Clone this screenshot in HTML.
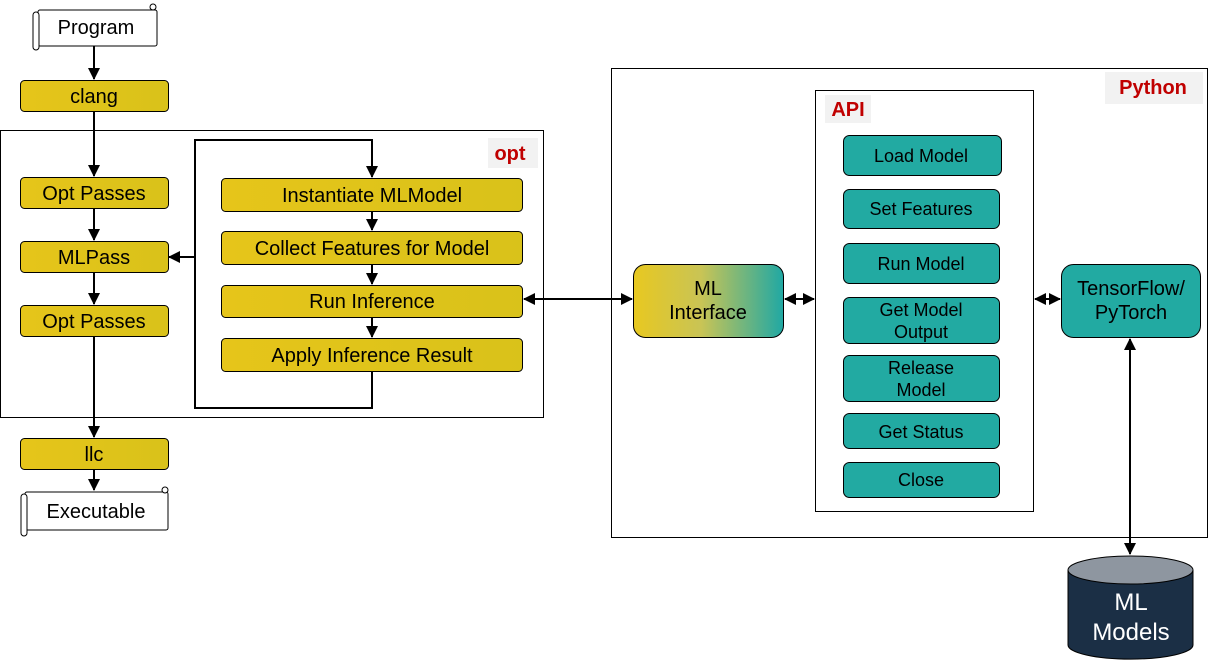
<!DOCTYPE html>
<html><head><meta charset="utf-8"><style>
body{margin:0;background:#fff;}
text{font-family:"Liberation Sans",sans-serif;fill:#000;}
</style></head><body>
<svg width="1208" height="662" viewBox="0 0 1208 662" xmlns="http://www.w3.org/2000/svg">
<defs>
<marker id="a" markerWidth="8" markerHeight="8" refX="7" refY="4" orient="auto" markerUnits="userSpaceOnUse"><path d="M0,0 L8,4 L0,8z" fill="#000"/></marker>
<marker id="b" markerWidth="12" markerHeight="12" refX="11" refY="6" orient="auto" markerUnits="userSpaceOnUse"><path d="M0,0 L12,6 L0,12z" fill="#000"/></marker>
<marker id="s" markerWidth="12" markerHeight="12" refX="1" refY="6" orient="auto" markerUnits="userSpaceOnUse"><path d="M12,0 L0,6 L12,12z" fill="#000"/></marker>
<linearGradient id="y" x1="0" x2="1"><stop offset="0" stop-color="#e6c51a"/><stop offset="1" stop-color="#d9c21a"/></linearGradient>
<linearGradient id="g" x1="0" x2="1"><stop offset="0" stop-color="#e8c820"/><stop offset="0.45" stop-color="#c9c455"/><stop offset="1" stop-color="#20a8a4"/></linearGradient>
</defs>
<!-- frames -->
<rect x="0.5" y="130.5" width="543" height="287" fill="none" stroke="#000"/>
<rect x="611.5" y="68.5" width="596" height="469" fill="none" stroke="#000"/>
<rect x="815.5" y="90.5" width="218" height="421" fill="none" stroke="#000"/>
<rect x="1105" y="72" width="98" height="32" fill="#f2f2f2"/>
<text x="1153" y="94" font-size="20" font-weight="bold" fill="#c00000" text-anchor="middle" style="fill:#c00000">Python</text>
<rect x="488" y="138" width="50" height="30" fill="#f2f2f2"/>
<text x="510" y="160" font-size="20" font-weight="bold" text-anchor="middle" style="fill:#c00000">opt</text>
<rect x="825" y="95" width="46" height="28" fill="#f2f2f2"/>
<text x="848" y="116" font-size="20" font-weight="bold" text-anchor="middle" style="fill:#c00000">API</text>
<!-- scrolls -->
<path d="M38,12 H152 M152,12 a3,3 0 0 1 5,0 V44 H40" fill="none" stroke="#000"/>
<rect x="38" y="10" width="119" height="36" fill="#fff" stroke="#000" rx="2"/>
<rect x="33" y="12" width="6" height="38" rx="3" fill="#fff" stroke="#000"/>
<circle cx="153" cy="7" r="3" fill="#fff" stroke="#000"/>
<text x="96" y="34" font-size="20" text-anchor="middle">Program</text>
<rect x="25" y="492" width="143" height="38" fill="#fff" stroke="#000" rx="2"/>
<rect x="21" y="494" width="6" height="42" rx="3" fill="#fff" stroke="#000"/>
<circle cx="165" cy="490" r="3" fill="#fff" stroke="#000"/>
<text x="96" y="518" font-size="20" text-anchor="middle">Executable</text>
<!-- left column -->
<g stroke="#000" fill="url(#y)">
<rect x="20.5" y="80.5" width="148" height="31" rx="4"/>
<rect x="20.5" y="177.5" width="148" height="31" rx="4"/>
<rect x="20.5" y="241.5" width="148" height="31" rx="4"/>
<rect x="20.5" y="305.5" width="148" height="31" rx="4"/>
<rect x="20.5" y="438.5" width="148" height="31" rx="4"/>
<rect x="221.5" y="178.5" width="301" height="33" rx="4"/>
<rect x="221.5" y="231.5" width="301" height="33" rx="4"/>
<rect x="221.5" y="285.5" width="301" height="32" rx="4"/>
<rect x="221.5" y="338.5" width="301" height="33" rx="4"/>
</g>
<g font-size="20" text-anchor="middle">
<text x="94" y="103">clang</text>
<text x="94" y="200">Opt Passes</text>
<text x="94" y="264">MLPass</text>
<text x="94" y="328">Opt Passes</text>
<text x="94" y="461">llc</text>
<text x="372" y="202">Instantiate MLModel</text>
<text x="372" y="255">Collect Features for Model</text>
<text x="372" y="308">Run Inference</text>
<text x="372" y="362">Apply Inference Result</text>
</g>
<g stroke="#000" stroke-width="2" fill="none">
<line x1="94" y1="46" x2="94" y2="79" marker-end="url(#b)"/>
<line x1="94" y1="111" x2="94" y2="176" marker-end="url(#b)"/>
<line x1="94" y1="208" x2="94" y2="240" marker-end="url(#b)"/>
<line x1="94" y1="272" x2="94" y2="304" marker-end="url(#b)"/>
<line x1="94" y1="336" x2="94" y2="437" marker-end="url(#b)"/>
<line x1="94" y1="469" x2="94" y2="490" marker-end="url(#b)"/>
<line x1="372" y1="211" x2="372" y2="230" marker-end="url(#b)"/>
<line x1="372" y1="264" x2="372" y2="284" marker-end="url(#b)"/>
<line x1="372" y1="317" x2="372" y2="337" marker-end="url(#b)"/>
<polyline points="372,371 372,408 195,408 195,140 372,140 372,177" marker-end="url(#b)"/>
<line x1="195" y1="257" x2="169" y2="257" marker-end="url(#b)"/>
<line x1="524" y1="299" x2="632" y2="299" marker-start="url(#s)" marker-end="url(#b)"/>
<line x1="785" y1="299" x2="814" y2="299" marker-start="url(#s)" marker-end="url(#b)"/>
<line x1="1035" y1="299" x2="1060" y2="299" marker-start="url(#s)" marker-end="url(#b)"/>
<line x1="1130" y1="339" x2="1130" y2="554" marker-start="url(#s)" marker-end="url(#b)"/>
</g>
<!-- right side -->
<rect x="633.5" y="264.5" width="150" height="73" rx="12" fill="url(#g)" stroke="#000"/>
<text x="708" y="295" font-size="20" text-anchor="middle">ML</text>
<text x="708" y="319" font-size="20" text-anchor="middle">Interface</text>
<g stroke="#000" fill="#22aaa2">
<rect x="843.5" y="135.5" width="158" height="40" rx="6"/>
<rect x="843.5" y="189.5" width="156" height="39" rx="6"/>
<rect x="843.5" y="243.5" width="156" height="40" rx="6"/>
<rect x="843.5" y="297.5" width="156" height="46" rx="6"/>
<rect x="843.5" y="355.5" width="156" height="46" rx="6"/>
<rect x="843.5" y="413.5" width="156" height="35" rx="6"/>
<rect x="843.5" y="462.5" width="156" height="35" rx="6"/>
<rect x="1061.5" y="264.5" width="139" height="73" rx="12"/>
</g>
<g font-size="18" text-anchor="middle">
<text x="921" y="162">Load Model</text>
<text x="921" y="215">Set Features</text>
<text x="921" y="270">Run Model</text>
<text x="921" y="316">Get Model</text>
<text x="921" y="338">Output</text>
<text x="921" y="374">Release</text>
<text x="921" y="396">Model</text>
<text x="921" y="438">Get Status</text>
<text x="921" y="486">Close</text>
</g>
<text x="1131" y="295" font-size="20" text-anchor="middle">TensorFlow/</text>
<text x="1131" y="319" font-size="20" text-anchor="middle">PyTorch</text>
<!-- cylinder -->
<path d="M1068,570 V645 A62,14 0 0 0 1193,645 V570" fill="#1b2f45" stroke="#000"/>
<ellipse cx="1130.5" cy="570" rx="62.5" ry="14" fill="#8e96a0" stroke="#000"/>
<text x="1131" y="610" font-size="24" text-anchor="middle" style="fill:#fff">ML</text>
<text x="1131" y="640" font-size="24" text-anchor="middle" style="fill:#fff">Models</text>
</svg>
</body></html>
